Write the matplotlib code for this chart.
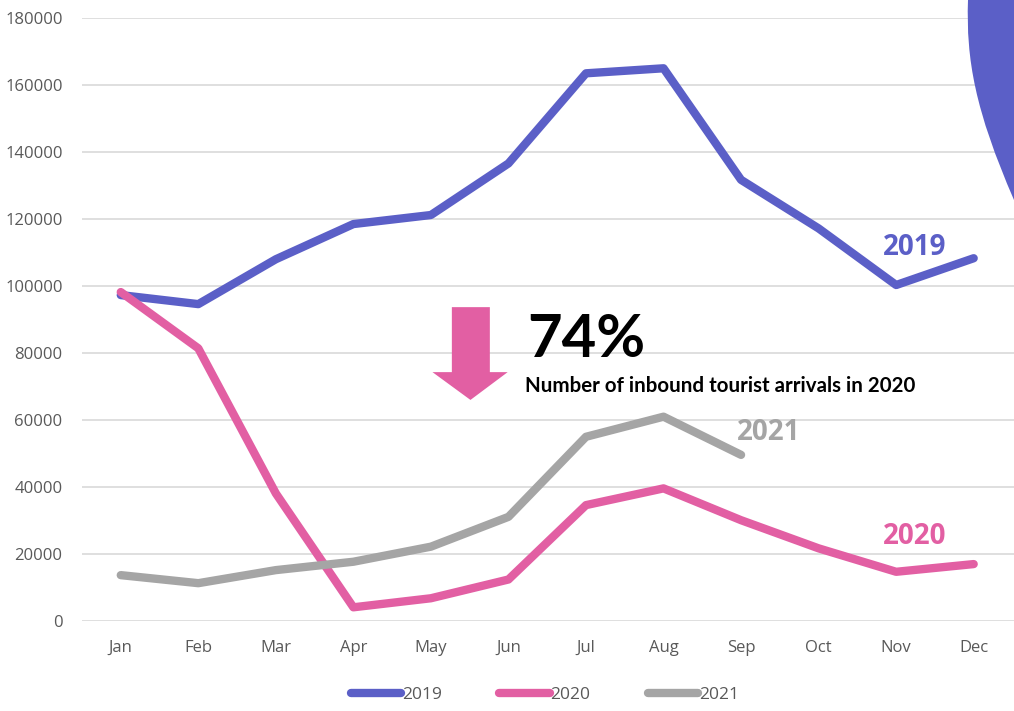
import numpy as np
import matplotlib.pyplot as plt
from matplotlib.patches import Polygon, PathPatch
from matplotlib.path import Path

# monthly inbound tourist arrivals
months = ['Jan', 'Feb', 'Mar', 'Apr', 'May', 'Jun', 'Jul', 'Aug', 'Sep', 'Oct', 'Nov', 'Dec']
arrivals_2019 = [97200, 94500, 107900, 118400, 121100, 136500, 163400, 164900, 131600, 117100, 100200, 108200]
arrivals_2020 = [98100, 81300, 38000, 4000, 6700, 12300, 34500, 39500, 30000, 21600, 14600, 16900]
arrivals_2021 = [13600, 11200, 15100, 17600, 22100, 31000, 54900, 60900, 49500]
y_ticks = [0, 20000, 40000, 60000, 80000, 100000, 120000, 140000, 160000, 180000]

blue = '#5B5FC7'
pink = '#E25FA3'
grey = '#A5A5A5'
tick_grey = '#595959'

plt.rcParams['font.family'] = ['Open Sans', 'DejaVu Sans']

fig = plt.figure(figsize=(10.14, 7.11), dpi=100)
ax = fig.add_axes([82 / 1014, 1 - 620.7 / 711, 1 - 82 / 1014, (620.7 - 17.7) / 711])

x = np.arange(len(months))
ax.plot(x, arrivals_2019, color=blue, lw=6, solid_capstyle='round', solid_joinstyle='round', label='2019', clip_on=False)
ax.plot(x, arrivals_2020, color=pink, lw=6, solid_capstyle='round', solid_joinstyle='round', label='2020', clip_on=False)
ax.plot(x[:len(arrivals_2021)], arrivals_2021, color=grey, lw=6, solid_capstyle='round', solid_joinstyle='round', label='2021', clip_on=False)

ax.set_xlim(-0.5, 11.52)
ax.set_ylim(0, 180000)
ax.set_xticks(x)
ax.set_xticklabels(months)
ax.set_yticks(y_ticks)
ax.set_yticklabels([str(v) for v in y_ticks])
ax.tick_params(axis='both', length=0, labelsize=12, labelcolor=tick_grey)
ax.tick_params(axis='y', pad=14)
ax.tick_params(axis='x', pad=14)
ax.grid(axis='y', color='#D9D9D9', lw=1.2)
ax.set_axisbelow(True)
for s in ax.spines.values():
    s.set_visible(False)

# series labels
ax.text(10.24, 111500, '2019', color=blue, fontweight='bold', fontsize=20, ha='center', va='center')
ax.text(10.24, 25000, '2020', color=pink, fontweight='bold', fontsize=20, ha='center', va='center')
ax.text(8.35, 56300, '2021', color=grey, fontweight='bold', fontsize=20, ha='center', va='center')

# callout: down arrow + 74%
arrow = Polygon([(4.27, 93600), (4.76, 93600), (4.76, 74200), (4.99, 74200),
                 (4.51, 65900), (4.02, 74200), (4.27, 74200)],
                closed=True, color=pink, lw=0, zorder=4)
ax.add_patch(arrow)
ax.text(5.24, 78700, '74%', family='Lato', fontweight='bold', fontsize=43, color='black', ha='left', va='baseline')
ax.text(5.21, 68400, 'Number of inbound tourist arrivals in 2020', family='Lato', fontweight='bold',
        fontsize=14.8, color='black', ha='left', va='baseline')

# decorative blob in top right corner (figure pixels)
W, H = 1014, 711
pts = [(968, 0), (966, 60), (975, 110), (1014, 200), (1014, 0), (968, 0)]
codes = [Path.MOVETO, Path.CURVE4, Path.CURVE4, Path.CURVE4, Path.LINETO, Path.CLOSEPOLY]
blob = Path([(px / W, 1 - py / H) for px, py in pts], codes)
fig.patches.append(PathPatch(blob, transform=fig.transFigure, color=blue, lw=0))

leg = fig.legend(loc='center', bbox_to_anchor=(545 / 1014, 1 - 695 / 711), ncol=3, frameon=False,
                 fontsize=12.5, handlelength=2.9, handletextpad=0.05, columnspacing=3.3)
for t in leg.get_texts():
    t.set_color(tick_grey)

fig.savefig('out.png', dpi=100)
